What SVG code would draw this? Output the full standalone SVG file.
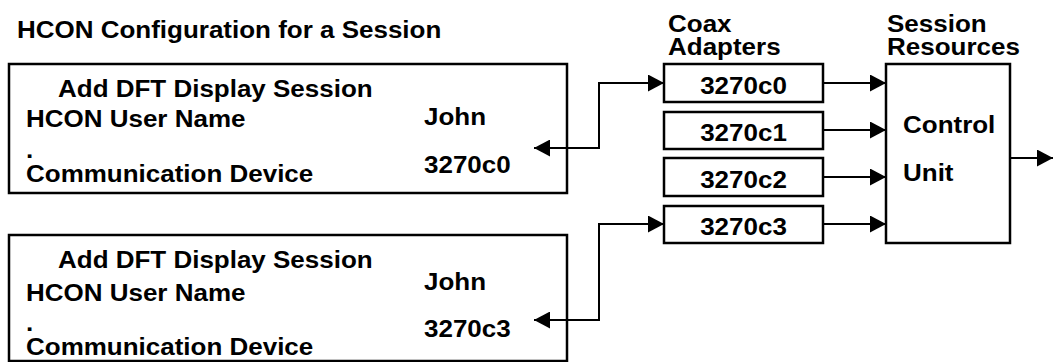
<svg xmlns="http://www.w3.org/2000/svg" width="1053" height="362" viewBox="0 0 1053 362">
<style>
text{font-family:"Liberation Sans",Arial,sans-serif;font-weight:bold;font-size:24px;fill:#000}
.box{fill:#fff;stroke:#000;stroke-width:2.5}
.conn{fill:none;stroke:#000;stroke-width:2}
.mid{text-anchor:middle}
</style>
<defs>
<marker id="ah" viewBox="0 0 16 17" refX="16" refY="8.5" markerWidth="16" markerHeight="17" markerUnits="userSpaceOnUse" orient="auto-start-reverse">
<path d="M0,0 L16,8.5 L0,17 z" fill="#000"/>
</marker>
</defs>
<rect width="1053" height="362" fill="#fff"/>
<text id="title" transform="translate(17,38) scale(1.083,1)">HCON Configuration for a Session</text>
<g id="session1">
<rect class="box" x="9" y="64" width="558" height="129"/>
<text transform="translate(58,97) scale(1.083,1)">Add DFT Display Session</text>
<text transform="translate(26,127) scale(1.083,1)">HCON User Name</text>
<text transform="translate(26,158) scale(1.083,1)">.</text>
<text transform="translate(26,182) scale(1.083,1)">Communication Device</text>
<text transform="translate(424,125) scale(1.083,1)">John</text>
<text transform="translate(424,173) scale(1.083,1)">3270c0</text>
</g>
<g id="session2">
<rect class="box" x="9" y="235" width="558" height="126"/>
<text transform="translate(58,268) scale(1.083,1)">Add DFT Display Session</text>
<text transform="translate(26,301) scale(1.083,1)">HCON User Name</text>
<text transform="translate(26,331) scale(1.083,1)">.</text>
<text transform="translate(26,355) scale(1.083,1)">Communication Device</text>
<text transform="translate(424,290) scale(1.083,1)">John</text>
<text transform="translate(424,337) scale(1.083,1)">3270c3</text>
</g>
<g id="adapters-heading">
<text transform="translate(668,32) scale(1.083,1)">Coax</text>
<text transform="translate(668,55) scale(1.083,1)">Adapters</text>
</g>
<g id="resources-heading">
<text transform="translate(887,32) scale(1.083,1)">Session</text>
<text transform="translate(887,55) scale(1.083,1)">Resources</text>
</g>
<g id="c0"><rect class="box" x="664" y="64" width="159" height="38"/><text class="mid" transform="translate(743.5,94) scale(1.083,1)">3270c0</text></g>
<g id="c1"><rect class="box" x="664" y="112" width="159" height="37"/><text class="mid" transform="translate(743.5,141) scale(1.083,1)">3270c1</text></g>
<g id="c2"><rect class="box" x="664" y="158" width="159" height="38"/><text class="mid" transform="translate(743.5,188) scale(1.083,1)">3270c2</text></g>
<g id="c3"><rect class="box" x="664" y="206" width="159" height="37"/><text class="mid" transform="translate(743.5,235) scale(1.083,1)">3270c3</text></g>
<g id="control-unit">
<rect class="box" x="886" y="64" width="124" height="179"/>
<text transform="translate(903,133) scale(1.083,1)">Control</text>
<text transform="translate(903,181) scale(1.083,1)">Unit</text>
</g>
<g id="connectors">
<path class="conn" d="M534,148 H599 V83 H664" marker-start="url(#ah)" marker-end="url(#ah)"/>
<path class="conn" d="M534,320 H599 V224 H664" marker-start="url(#ah)" marker-end="url(#ah)"/>
<path class="conn" d="M823,83 H886" marker-end="url(#ah)"/>
<path class="conn" d="M823,130 H886" marker-end="url(#ah)"/>
<path class="conn" d="M823,177 H886" marker-end="url(#ah)"/>
<path class="conn" d="M823,224 H886" marker-end="url(#ah)"/>
<path class="conn" d="M1010,158 H1053" marker-end="url(#ah)"/>
</g>
</svg>
